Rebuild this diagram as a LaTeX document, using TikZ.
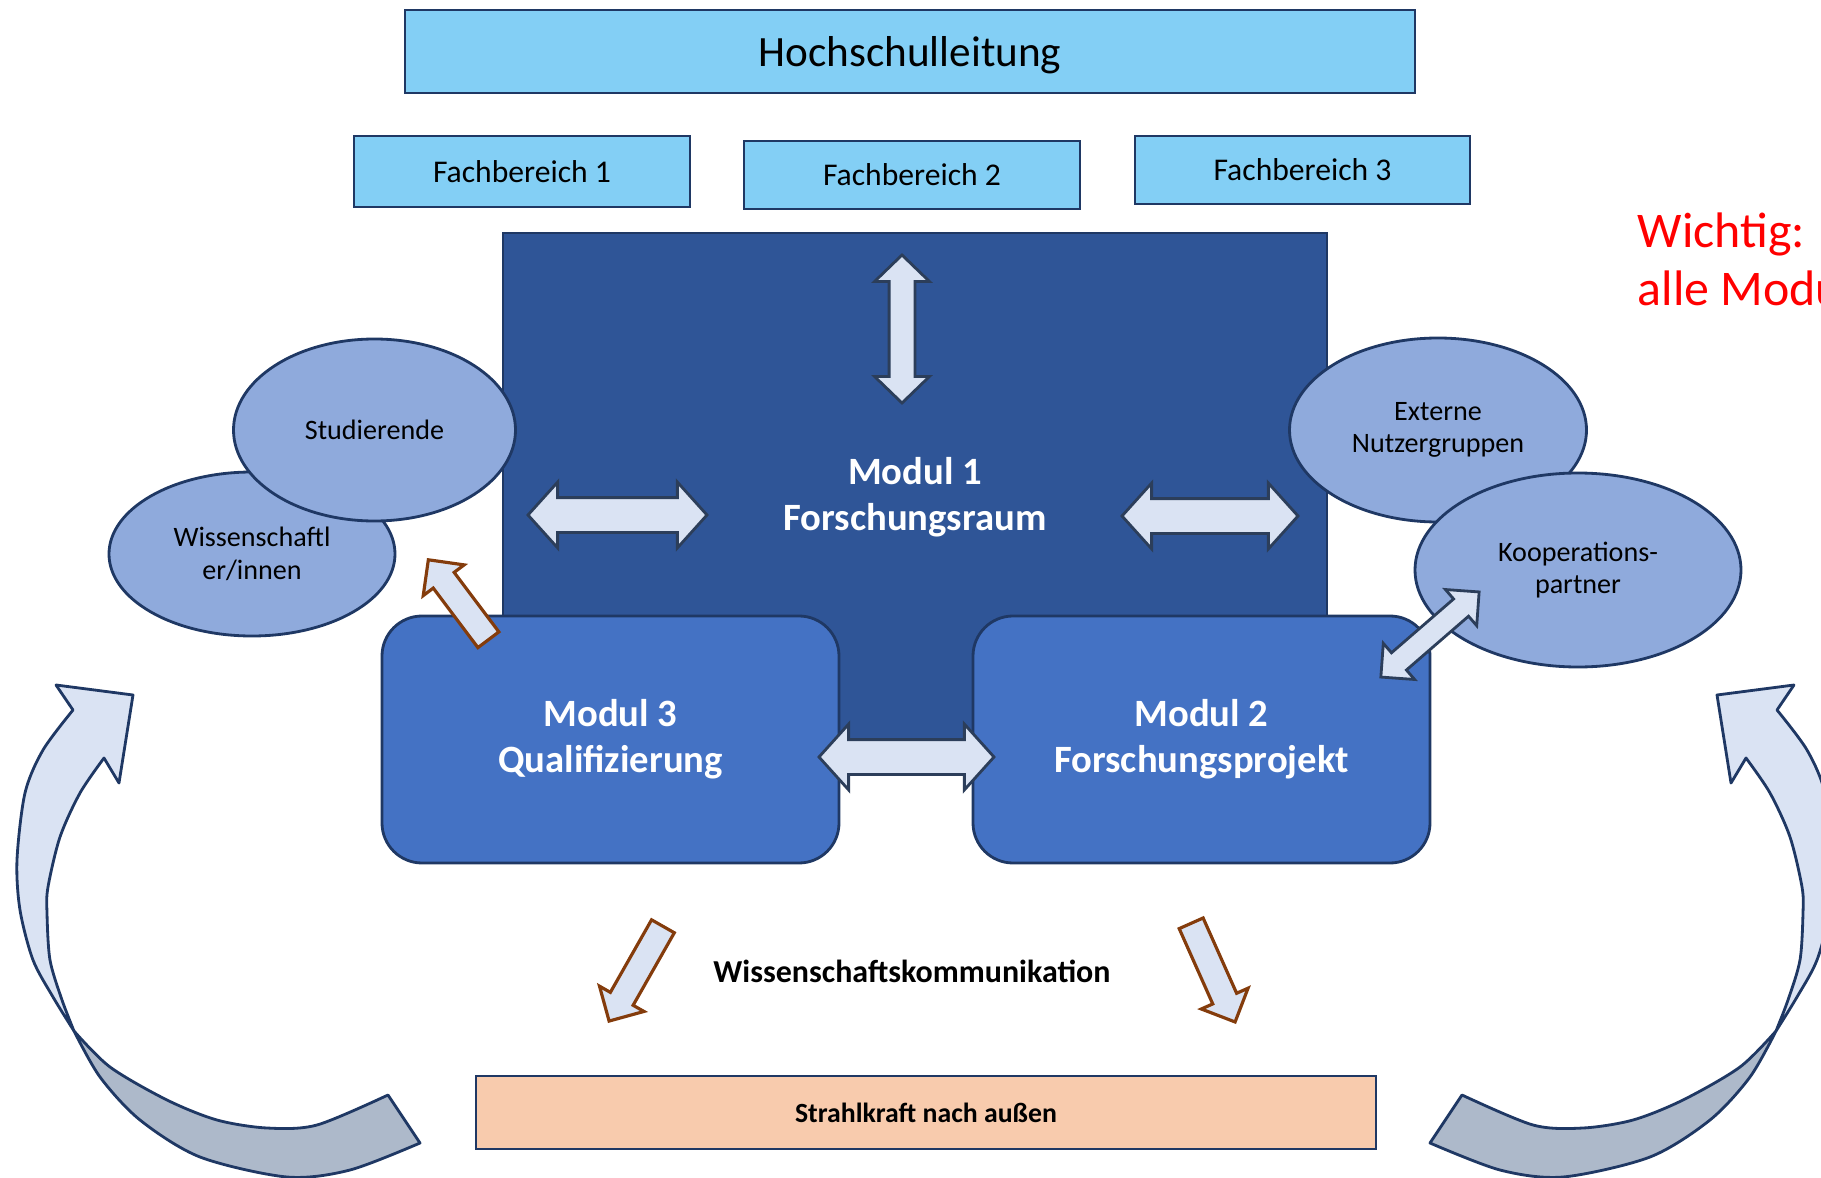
\documentclass[tikz,border=0pt]{standalone}
\usepackage{fontspec}
\setmainfont{Carlito}
\usetikzlibrary{shapes.geometric,shapes.arrows}

\definecolor{hellblau}{RGB}{131,207,245}
\definecolor{rahmen}{RGB}{31,56,100}
\definecolor{modulA}{RGB}{47,85,151}
\definecolor{modulB}{RGB}{68,114,196}
\definecolor{ellblau}{RGB}{143,170,220}
\definecolor{pfeilfill}{RGB}{218,227,243}
\definecolor{pfeilrand}{RGB}{44,62,90}
\definecolor{braun}{RGB}{132,60,12}
\definecolor{schatten}{RGB}{173,185,202}
\definecolor{pfirsich}{RGB}{248,203,173}

\tikzset{
  kasten/.style={draw=rahmen, line width=0.8pt, fill=hellblau, inner sep=0pt},
  modul/.style={draw=rahmen, line width=0.8pt, fill=modulB, rounded corners=0.4cm,
    text=white, align=center, font=\fontsize{11}{13.2}\selectfont\bfseries,
    minimum width=4.57cm, minimum height=2.47cm},
  gruppe/.style={ellipse, draw=rahmen, line width=0.8pt, fill=ellblau, align=center,
    inner sep=0pt, font=\fontsize{8}{9.3}\selectfont},
  doppelpfeil/.style={double arrow, draw=pfeilrand, line width=0.8pt, fill=pfeilfill,
    inner xsep=0pt, inner ysep=0.16cm, minimum width=0.63cm,
    double arrow head extend=0.155cm, double arrow tip angle=96},
  einpfeil/.style={single arrow, draw=braun, line width=0.9pt, fill=pfeilfill,
    inner xsep=0pt, inner ysep=0.115cm, minimum width=0.48cm,
    single arrow head extend=0.125cm, single arrow tip angle=90, anchor=tip},
}

% gebogener Pfeil (links), rechts gespiegelt
\newcommand{\bogenpfeil}{%
  % hinterer Teil
  \draw[rahmen, line width=0.8pt, fill=schatten, line join=round]
    plot[smooth] coordinates {(0.74,-10.31) (1.10,-10.67) (1.67,-11.00) (2.17,-11.20)
      (2.67,-11.28) (3.17,-11.25) (3.88,-10.95)}
    -- plot[smooth] coordinates {(4.20,-11.43) (3.50,-11.70) (2.87,-11.77) (2.00,-11.57)
      (1.40,-11.20) (1.00,-10.77) (0.74,-10.31)} -- cycle;
  % vorderer Teil mit Spitze
  \draw[rahmen, line width=0.8pt, fill=pfeilfill, line join=round]
    (0.56,-6.85) -- (1.33,-6.95) -- (1.19,-7.83) -- (1.04,-7.58)
    -- plot[smooth] coordinates {(1.04,-7.58) (0.80,-7.93) (0.60,-8.37) (0.48,-8.87)
      (0.47,-9.13) (0.50,-9.60) (0.62,-10.00) (0.74,-10.31)}
    -- plot[smooth] coordinates {(0.74,-10.31) (0.53,-9.97) (0.33,-9.60) (0.20,-9.10)
      (0.17,-8.60) (0.25,-7.93) (0.43,-7.50) (0.73,-7.10)} -- cycle;
}

\begin{document}
\begin{tikzpicture}
  \useasboundingbox (0,0) rectangle (18.21,-11.78);

  % Leitung und Fachbereiche
  \node[kasten, minimum width=10.10cm, minimum height=0.83cm,
        font=\fontsize{12.3}{14}\selectfont] (leitung) at (9.10,-0.515) {};
  \node[font=\fontsize{12.3}{14}\selectfont] (leitungtext) at (9.10,-0.55) {Hochschulleitung};
  \node[kasten, minimum width=3.36cm, minimum height=0.71cm,
        font=\fontsize{9}{11}\selectfont] (fb1) at (5.22,-1.715) {Fachbereich 1};
  \node[kasten, minimum width=3.36cm, minimum height=0.68cm,
        font=\fontsize{9}{11}\selectfont] (fb2) at (9.12,-1.75) {Fachbereich 2};
  \node[kasten, minimum width=3.35cm, minimum height=0.68cm,
        font=\fontsize{9}{11}\selectfont] (fb3) at (13.025,-1.70) {Fachbereich 3};

  % Modul 1
  \node[draw=rahmen, line width=0.8pt, fill=modulA, minimum width=8.24cm,
        minimum height=5.12cm] (modul1) at (9.15,-4.89) {};
  \node[text=white, align=center, font=\fontsize{11}{13.2}\selectfont\bfseries]
        (modul1text) at (9.15,-4.97) {Modul 1\\Forschungsraum};

  % Gruppen
  \node[gruppe, minimum width=2.86cm, minimum height=1.64cm] (wiss) at (2.52,-5.54)
        {Wissenschaftl\\er/innen};
  \node[gruppe, minimum width=2.82cm, minimum height=1.82cm] (stud) at (3.745,-4.30)
        {Studierende};
  \node[gruppe, minimum width=2.97cm, minimum height=1.84cm] (extern) at (14.38,-4.30)
        {Externe\\Nutzergruppen};
  \node[gruppe, minimum width=3.26cm, minimum height=1.94cm] (koop) at (15.78,-5.70)
        {Kooperations-\\partner};

  % Module 2 und 3
  \node[modul] (modul3) at (6.105,-7.395) {Modul 3\\Qualifizierung};
  \node[modul] (modul2) at (12.015,-7.395) {Modul 2\\Forschungsprojekt};

  % Doppelpfeile
  \node[doppelpfeil, rotate=90, minimum height=1.48cm, minimum width=0.52cm,
        inner ysep=0.115cm, double arrow head extend=0.145cm,
        double arrow tip angle=92] (pfeilfb) at (9.02,-3.29) {};
  \node[doppelpfeil, minimum height=1.79cm] (pfeilli) at (6.175,-5.15) {};
  \node[doppelpfeil, minimum height=1.76cm] (pfeilre) at (12.10,-5.16) {};
  \node[doppelpfeil, minimum height=1.75cm] (pfeilmi) at (9.065,-7.57) {};
  \node[doppelpfeil, rotate=40.9, minimum height=1.30cm, minimum width=0.45cm,
        inner ysep=0.10cm, double arrow head extend=0.125cm,
        double arrow tip angle=90] (pfeilkoop) at (14.30,-6.345) {};

  % Einzelpfeile
  \node[einpfeil, rotate=126.9, minimum height=1.00cm] (pfeilwiss) at (4.27,-5.58) {};
  \node[einpfeil, rotate=240.4, minimum height=1.09cm] (pfeilunten1) at (6.08,-10.23) {};
  \node[einpfeil, rotate=294, minimum height=1.08cm] (pfeilunten2) at (12.36,-10.24) {};

  \node[font=\fontsize{9.1}{11}\selectfont\bfseries] (kommunikation) at (9.12,-9.71)
        {Wissenschaftskommunikation};

  % Strahlkraft
  \node[draw=rahmen, line width=0.8pt, fill=pfirsich, minimum width=9.00cm,
        minimum height=0.73cm, font=\fontsize{7.9}{9.5}\selectfont\bfseries] (strahlkraft)
        at (9.26,-11.125) {Strahlkraft nach außen};

  % gebogene Pfeile
  \bogenpfeil
  \begin{scope}[xshift=18.5cm, xscale=-1]
    \bogenpfeil
  \end{scope}

  % Hinweis
  \node[text=red, font=\fontsize{14.2}{16.5}\selectfont, anchor=base west, inner sep=0pt]
        (wichtig) at (16.37,-2.47) {Wichtig:};
  \node[text=red, font=\fontsize{14.2}{16.5}\selectfont, anchor=base west, inner sep=0pt]
        (allemodule) at (16.37,-3.05) {alle Modu};
\end{tikzpicture}
\end{document}
